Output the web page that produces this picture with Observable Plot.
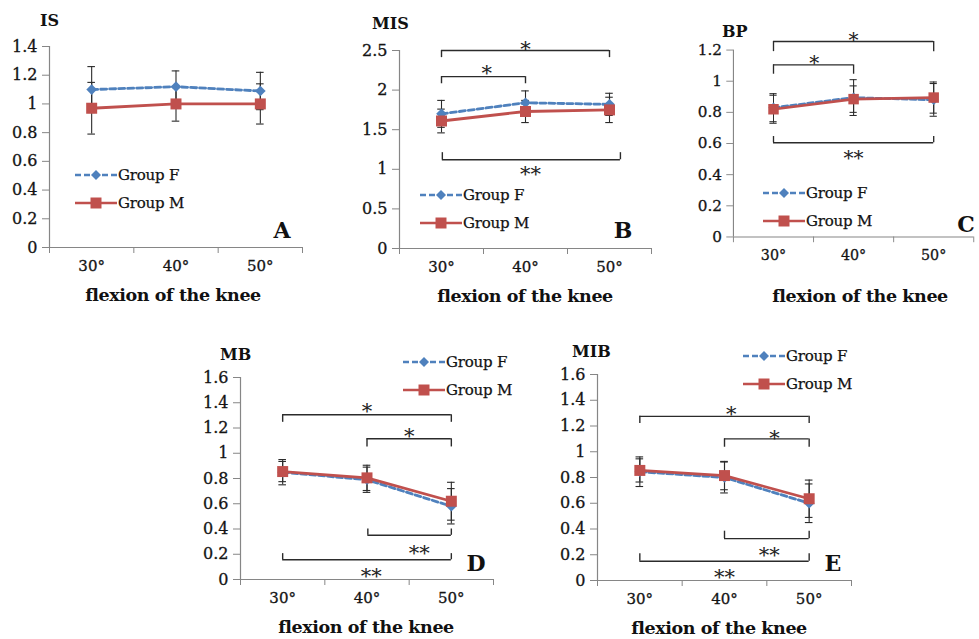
<!DOCTYPE html>
<html><head><meta charset="utf-8">
<script src="https://cdn.jsdelivr.net/npm/d3@7"></script>
<script src="https://cdn.jsdelivr.net/npm/@observablehq/plot@0.6"></script>
<style>
html,body{margin:0;padding:0;background:#fff;overflow:hidden;}
#root{position:relative;width:979px;height:639px;overflow:hidden;font-family:"DejaVu Serif",serif;color:#111;}
.abs{position:absolute;white-space:nowrap;}
.panel{position:absolute;}
.panel svg{overflow:visible;}
.panel svg text{font-family:"DejaVu Serif",serif;}
</style></head><body><div id="root"></div>
<script>
// ---------- data ----------
const angles = [30, 40, 50];
const tickLabels = ["30°", "40°", "50°"];
const boundaries = [25, 35, 45, 55];
const seriesNames = ["Group F", "Group M"];
const xLabel = "flexion of the knee";

const titles = ["IS", "MIS", "BP", "MB", "MIB"];
const letters = ["A", "B", "C", "D", "E"];

// Group F means / SD, Group M means / SD
const fIS  = [1.10, 1.12, 1.09]; const fIS_sd  = [0.16, 0.11, 0.13];
const mIS  = [0.97, 1.00, 1.00]; const mIS_sd  = [0.18, 0.12, 0.14];
const fMIS = [1.70, 1.84, 1.82]; const fMIS_sd = [0.17, 0.15, 0.14];
const mMIS = [1.61, 1.73, 1.75]; const mMIS_sd = [0.15, 0.14, 0.16];
const fBP  = [0.83, 0.895, 0.88]; const fBP_sd = [0.09, 0.115, 0.105];
const mBP  = [0.82, 0.885, 0.895]; const mBP_sd = [0.09, 0.085, 0.10];
const fMB  = [0.85, 0.79, 0.58]; const fMB_sd  = [0.10, 0.10, 0.14];
const mMB  = [0.855, 0.805, 0.62]; const mMB_sd = [0.08, 0.10, 0.15];
const fMIB = [0.845, 0.80, 0.60]; const fMIB_sd = [0.115, 0.12, 0.15];
const mMIB = [0.855, 0.815, 0.635]; const mMIB_sd = [0.09, 0.11, 0.145];

const yTicksIS  = [0, 0.2, 0.4, 0.6, 0.8, 1, 1.2, 1.4];
const yTicksMIS = [0, 0.5, 1, 1.5, 2, 2.5];
const yTicksBP  = [0, 0.2, 0.4, 0.6, 0.8, 1, 1.2];
const yTicksMB  = [0, 0.2, 0.4, 0.6, 0.8, 1, 1.2, 1.4, 1.6];
const yTicksMIB = [0, 0.2, 0.4, 0.6, 0.8, 1, 1.2, 1.4, 1.6];

// significance brackets: from, to, bar level, tip level, label, label x, label y
const bracketsIS = [];
const bracketsMIS = [
  {from: 30, to: 50, y: 2.50, tip: 2.41, label: "*", lx: 40, ly: 2.59},
  {from: 30, to: 40, y: 2.17, tip: 2.08, label: "*", lx: 35.4, ly: 2.29},
  {from: 30.1, to: 51.3, y: 1.12, tip: 1.21, label: "**", lx: 40.6, ly: 1.01}
];
const bracketsBP = [
  {from: 30, to: 50, y: 1.255, tip: 1.19, label: "*", lx: 40, ly: 1.30},
  {from: 30, to: 40, y: 1.105, tip: 1.045, label: "*", lx: 35.1, ly: 1.15},
  {from: 30, to: 50, y: 0.605, tip: 0.645, label: "**", lx: 40, ly: 0.54}
];
const bracketsMB = [
  {from: 30, to: 50, y: 1.305, tip: 1.245, label: "*", lx: 40, ly: 1.38},
  {from: 40, to: 50, y: 1.115, tip: 1.05, label: "*", lx: 45, ly: 1.18},
  {from: 40.1, to: 50, y: 0.35, tip: 0.40, label: "**", lx: 46.2, ly: 0.256},
  {from: 30, to: 50, y: 0.156, tip: 0.205, label: "**", lx: 40.5, ly: 0.07}
];
const bracketsMIB = [
  {from: 30, to: 50, y: 1.275, tip: 1.22, label: "*", lx: 40.8, ly: 1.34},
  {from: 40, to: 50, y: 1.10, tip: 1.035, label: "*", lx: 45.9, ly: 1.15},
  {from: 40, to: 50, y: 0.325, tip: 0.383, label: "**", lx: 45.3, ly: 0.246},
  {from: 30, to: 50, y: 0.15, tip: 0.207, label: "**", lx: 40, ly: 0.072}
];

// ---------- style ----------
const blue = "#4F81BD", red = "#C0504D", axisGray = "#868686", barInk = "#2b2b2b", ink = "#141414";

// ---------- layout (pixel boxes of each panel) ----------
const layouts = [
  {left: 0,   top: 0,   width: 320, height: 310, mL: 49, mR: 18, mT: 46, mB: 63,
   title: [40, 21], letter: [282, 230], xlab: [173, 296], legend: [75, 175], ymax: 1.4},
  {left: 330, top: 0,   width: 330, height: 310, mL: 69, mR: 9,  mT: 50, mB: 62,
   title: [372, 24], letter: [623, 230], xlab: [525, 297], legend: [420, 195], ymax: 2.5},
  {left: 650, top: 0,   width: 345, height: 310, mL: 87, mR: 6,  mT: 52, mB: 62,
   title: [722, 32], letter: [966, 224], xlab: [860, 297], legend: [763, 193], ymax: 1.2},
  {left: 190, top: 320, width: 320, height: 319, mL: 50, mR: 17, mT: 57, mB: 60,
   title: [220, 355], letter: [476, 563], xlab: [366, 628], legend: [403, 362], ymax: 1.6},
  {left: 510, top: 320, width: 360, height: 319, mL: 87, mR: 19, mT: 54, mB: 59,
   title: [572, 352], letter: [833, 563], xlab: [719, 629], legend: [743, 356], ymax: 1.6}
];

const panels = [
  {f: fIS, fsd: fIS_sd, m: mIS, msd: mIS_sd, ticks: yTicksIS, br: bracketsIS},
  {f: fMIS, fsd: fMIS_sd, m: mMIS, msd: mMIS_sd, ticks: yTicksMIS, br: bracketsMIS},
  {f: fBP, fsd: fBP_sd, m: mBP, msd: mBP_sd, ticks: yTicksBP, br: bracketsBP},
  {f: fMB, fsd: fMB_sd, m: mMB, msd: mMB_sd, ticks: yTicksMB, br: bracketsMB},
  {f: fMIB, fsd: fMIB_sd, m: mMIB, msd: mMIB_sd, ticks: yTicksMIB, br: bracketsMIB}
];

const root = document.getElementById("root");

function addText(txt, x, y, css, anchor) {
  const d = document.createElement("div");
  d.className = "abs";
  d.textContent = txt;
  d.style.cssText += css;
  d.style.left = x + "px";
  d.style.top = y + "px";
  d.style.lineHeight = "1";
  d.style.transform = anchor === "center" ? "translate(-50%,-50%)" : "translate(0,-50%)";
  root.appendChild(d);
}

function addLegend(x, y) {
  const rows = [
    {name: seriesNames[0], color: blue, dash: "6,3", sym: "diamond"},
    {name: seriesNames[1], color: red, dash: null, sym: "square"}
  ];
  rows.forEach((r, i) => {
    const d = document.createElement("div");
    d.className = "abs";
    d.style.left = x + "px";
    d.style.top = (y + i * 28 - 8) + "px";
    d.style.display = "flex";
    d.style.alignItems = "center";
    d.style.height = "16px";
    const ns = "http://www.w3.org/2000/svg";
    const s = document.createElementNS(ns, "svg");
    s.setAttribute("width", 42); s.setAttribute("height", 16);
    const ln = document.createElementNS(ns, "line");
    ln.setAttribute("x1", 0); ln.setAttribute("x2", 42);
    ln.setAttribute("y1", 8); ln.setAttribute("y2", 8);
    ln.setAttribute("stroke", r.color); ln.setAttribute("stroke-width", 2.6);
    if (r.dash) ln.setAttribute("stroke-dasharray", r.dash);
    s.appendChild(ln);
    const p = document.createElementNS(ns, "path");
    if (r.sym === "square") p.setAttribute("d", "M15.5,2.5H26.5V13.5H15.5Z");
    else p.setAttribute("d", "M21,3L26,8L21,13L16,8Z");
    p.setAttribute("fill", r.color);
    s.appendChild(p);
    d.appendChild(s);
    const t = document.createElement("span");
    t.textContent = r.name;
    t.style.fontSize = "15px";
    t.style.marginLeft = "1px";
    t.style.lineHeight = "1";
    t.style.letterSpacing = "-0.2px";
    t.style.webkitTextStroke = "0.25px #141414";
    d.appendChild(t);
    root.appendChild(d);
  });
}

panels.forEach((p, k) => {
  const L = layouts[k];
  const fData = angles.map((a, i) => ({x: a, y: p.f[i], e: p.fsd[i]}));
  const mData = angles.map((a, i) => ({x: a, y: p.m[i], e: p.msd[i]}));
  const caps = (data) => data.flatMap(d => [{x: d.x, y: d.y + d.e}, {x: d.x, y: d.y - d.e}]);
  const tips = p.br.flatMap(b => [{x: b.from, y1: b.y, y2: b.tip}, {x: b.to, y1: b.y, y2: b.tip}]);

  const chart = Plot.plot({
    width: L.width, height: L.height,
    marginLeft: L.mL, marginRight: L.mR, marginTop: L.mT, marginBottom: L.mB,
    x: {domain: [25, 55], axis: null},
    y: {domain: [0, L.ymax], axis: null},
    style: {fontFamily: "DejaVu Serif", background: "transparent", overflow: "visible"},
    marks: [
      // axis ticks and lines
      Plot.axisY({ticks: p.ticks, tickSize: 7, tickFormat: () => "", stroke: axisGray, label: null}),
      Plot.axisX({ticks: boundaries, tickSize: 6, tickFormat: () => "", stroke: axisGray, label: null}),
      Plot.ruleX([25], {stroke: axisGray, strokeWidth: 1.2}),
      Plot.ruleY([0], {stroke: axisGray, strokeWidth: 1.2}),
      // tick labels
      Plot.text(p.ticks, {x: 25, y: d => d, text: d => String(d), textAnchor: "end", dx: -12,
                          fontSize: 16, fill: ink, stroke: ink, strokeWidth: 0.3}),
      Plot.text(angles, {x: d => d, y: 0, text: d => tickLabels[angles.indexOf(d)], lineAnchor: "top", dy: 13,
                         fontSize: 15, fill: ink, stroke: ink, strokeWidth: 0.3}),
      // brackets
      Plot.ruleY(p.br, {y: "y", x1: "from", x2: "to", stroke: barInk, strokeWidth: 1.4}),
      Plot.ruleX(tips, {x: "x", y1: "y1", y2: "y2", stroke: barInk, strokeWidth: 1.4}),
      Plot.text(p.br, {x: "lx", y: "ly", text: "label", fontSize: 21, dy: 6, fill: "#222"}),
      // lines
      Plot.line(fData, {x: "x", y: "y", stroke: blue, strokeWidth: 2.8, strokeDasharray: "6,3"}),
      Plot.line(mData, {x: "x", y: "y", stroke: red, strokeWidth: 2.8}),
      // error bars
      Plot.ruleX(fData, {x: "x", y1: d => d.y - d.e, y2: d => d.y + d.e, stroke: barInk, strokeWidth: 1.1}),
      Plot.ruleY(caps(fData), {y: "y", x1: d => d.x - 0.45, x2: d => d.x + 0.45, stroke: barInk, strokeWidth: 1.1}),
      Plot.ruleX(mData, {x: "x", y1: d => d.y - d.e, y2: d => d.y + d.e, stroke: barInk, strokeWidth: 1.1}),
      Plot.ruleY(caps(mData), {y: "y", x1: d => d.x - 0.45, x2: d => d.x + 0.45, stroke: barInk, strokeWidth: 1.1}),
      // markers
      Plot.dot(fData, {x: "x", y: "y", symbol: "diamond2", r: 4.8, fill: blue, stroke: "none"}),
      Plot.dot(mData, {x: "x", y: "y", symbol: "square", r: 6.2, fill: red, stroke: "none"})
    ]
  });
  const holder = document.createElement("div");
  holder.className = "panel";
  holder.style.left = L.left + "px";
  holder.style.top = L.top + "px";
  holder.appendChild(chart);
  root.appendChild(holder);

  addText(titles[k], L.title[0], L.title[1], "font-weight:bold;font-size:16px;", "left");
  addText(letters[k], L.letter[0], L.letter[1], "font-weight:bold;font-size:22px;", "center");
  addText(xLabel, L.xlab[0], L.xlab[1], "font-weight:bold;font-size:17.5px;letter-spacing:-0.4px;", "center");
  addLegend(L.legend[0], L.legend[1]);
});
</script></body></html>
